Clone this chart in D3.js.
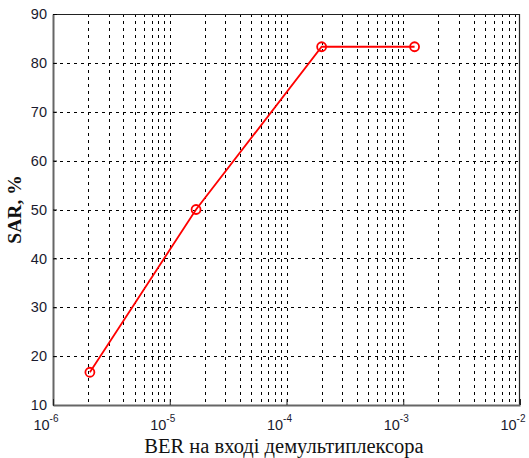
<!DOCTYPE html>
<html>
<head>
  <meta charset="utf-8">
  <title>SAR vs BER</title>
  <script src="https://d3js.org/d3.v7.min.js"></script>
  <style>
    html, body { margin: 0; background: #fff; overflow: hidden; }
  </style>
</head>
<body>
  <div id="chart"></div>
  <script>
    // data
    const berValues = [2.07e-6, 1.68e-5, 2.0e-4, 1.25e-3];
    const sarValues = [16.7, 50, 83.3, 83.3];
    const yTicks = [10, 20, 30, 40, 50, 60, 70, 80, 90];
    const xDecades = [-6, -5, -4, -3, -2];

    const W = 529, H = 458;
    const pLeft = 53, pRight = 520, pTop = 14, pBottom = 405;

    const svg = d3.select('#chart').append('svg')
      .attr('width', W).attr('height', H);

    const x = d3.scaleLog().domain([1e-6, 1e-2]).range([pLeft, pRight]);
    const y = d3.scaleLinear().domain([10, 90]).range([pBottom, pTop]);

    // minor + major x grid positions
    const xGrid = [];
    for (let e = -6; e < -2; e++) {
      for (let m = 1; m <= 9; m++) xGrid.push(m * Math.pow(10, e));
    }

    const grid = svg.append('g').attr('stroke', '#000').attr('stroke-width', 1)
      .attr('stroke-dasharray', '3,4').attr('fill', 'none');
    grid.selectAll('.gx').data(xGrid.filter(v => v > 1e-6)).enter().append('line')
      .attr('x1', d => Math.round(x(d)) + 0.5).attr('x2', d => Math.round(x(d)) + 0.5)
      .attr('y1', pTop).attr('y2', pBottom);
    grid.selectAll('.gy').data(yTicks.slice(1, -1)).enter().append('line')
      .attr('x1', pLeft).attr('x2', pRight)
      .attr('y1', d => Math.round(y(d)) + 0.5).attr('y2', d => Math.round(y(d)) + 0.5);

    // frame
    svg.append('line').attr('x1', pLeft).attr('x2', pRight).attr('y1', pTop + 0.5).attr('y2', pTop + 0.5)
      .attr('stroke', '#222').attr('stroke-width', 1.2);
    svg.append('line').attr('x1', pRight - 0.5).attr('x2', pRight - 0.5).attr('y1', pTop).attr('y2', pBottom)
      .attr('stroke', '#222').attr('stroke-width', 1.2);

    // axes with ticks pointing inward
    const yAxis = svg.append('g').attr('transform', `translate(${pLeft},0)`)
      .call(d3.axisLeft(y).tickValues(yTicks).tickSizeInner(-4).tickSizeOuter(0).tickPadding(6));
    yAxis.select('.domain').attr('stroke', '#666').attr('stroke-width', 2);
    yAxis.selectAll('text').attr('font-family', 'Liberation Sans, Arial, sans-serif')
      .attr('font-size', 14.5).attr('fill', '#1a1a2e');

    const xAxis = svg.append('g').attr('transform', `translate(0,${pBottom})`)
      .call(d3.axisBottom(x).tickValues(xDecades.map(e => Math.pow(10, e)))
        .tickSizeInner(-6).tickSizeOuter(0).tickFormat(''));
    xAxis.select('.domain').attr('stroke', '#666').attr('stroke-width', 2);
    xAxis.selectAll('.tick line').attr('stroke', '#222');

    // decade labels 10^e
    const xl = svg.append('g').attr('font-family', 'Liberation Sans, Arial, sans-serif')
      .attr('fill', '#1a1a2e');
    xDecades.forEach(e => {
      const t = xl.append('text').attr('x', x(Math.pow(10, e)) - 7).attr('y', 430)
        .attr('text-anchor', 'middle').attr('font-size', 14.5);
      t.append('tspan').text('10');
      t.append('tspan').attr('dy', -8).attr('font-size', 10).text(e);
    });

    // series
    const pts = berValues.map((b, i) => [b, sarValues[i]]);
    svg.append('path').datum(pts)
      .attr('fill', 'none').attr('stroke', '#ff0000').attr('stroke-width', 1.8)
      .attr('d', d3.line().x(d => x(d[0])).y(d => y(d[1])));
    svg.selectAll('.pt').data(pts).enter().append('circle')
      .attr('cx', d => x(d[0])).attr('cy', d => y(d[1])).attr('r', 4.5)
      .attr('fill', 'none').attr('stroke', '#ff0000').attr('stroke-width', 1.8);

    // axis titles
    svg.append('text').attr('x', 284).attr('y', 453)
      .attr('text-anchor', 'middle').attr('font-family', 'Liberation Serif, Times New Roman, serif')
      .attr('font-size', 20.5).attr('fill', '#111').text('BER на вході демультиплексора');
    svg.append('text').attr('transform', `translate(21,${(pTop + pBottom) / 2}) rotate(-90)`)
      .attr('text-anchor', 'middle').attr('font-family', 'Liberation Serif, Times New Roman, serif')
      .attr('font-size', 19.5).attr('font-weight', 'bold').attr('fill', '#111').text('SAR, %');
  </script>
</body>
</html>
